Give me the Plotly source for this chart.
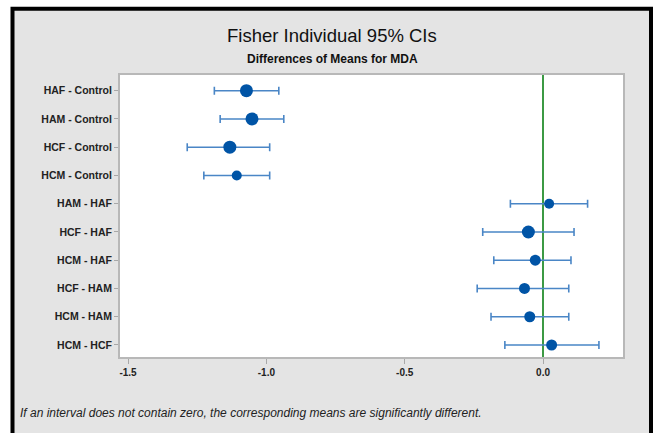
import plotly.graph_objects as go

comparisons = ["HAF - Control", "HAM - Control", "HCF - Control", "HCM - Control",
               "HAM - HAF", "HCF - HAF", "HCM - HAF", "HCF - HAM", "HCM - HAM", "HCM - HCF"]
diff = [-1.072, -1.052, -1.132, -1.107, 0.022, -0.053, -0.028, -0.067, -0.048, 0.031]
lower = [-1.188, -1.167, -1.286, -1.226, -0.118, -0.218, -0.178, -0.238, -0.188, -0.138]
upper = [-0.955, -0.937, -0.988, -0.988, 0.161, 0.112, 0.101, 0.093, 0.093, 0.202]
x_ticks = [-1.5, -1.0, -0.5, 0.0]
x_tick_labels = ["-1.5", "-1.0", "-0.5", "0.0"]

marker_sizes = [13, 13, 13, 10, 10, 13, 11, 11, 11, 11]

W, H = 654, 433
L, R, T, B = 120, 31, 75, 76
pw, ph = W - L - R, H - T - B


def px_x(x):
    return (x - L) / pw


def px_y(y):
    return 1 - (y - T) / ph


fig = go.Figure()
fig.add_trace(go.Scatter(
    x=diff, y=comparisons, mode="markers",
    marker=dict(color="#0054a6", size=marker_sizes, opacity=1, line=dict(width=0)),
    error_x=dict(type="data", symmetric=False,
                 array=[u - d for u, d in zip(upper, diff)],
                 arrayminus=[d - l for d, l in zip(diff, lower)],
                 color="#4a86c6", thickness=1.6, width=4),
    showlegend=False, cliponaxis=False,
))

fig.add_shape(type="rect", xref="paper", yref="paper",
              x0=px_x(12.5), x1=px_x(651), y0=px_y(480), y1=px_y(8.7),
              fillcolor="#e4e4e4", line=dict(color="black", width=4), layer="below")
fig.add_shape(type="rect", xref="paper", yref="paper",
              x0=0, x1=1, y0=0, y1=1,
              fillcolor="white", line=dict(width=0), layer="below")

font_main = "Liberation Sans, Arial, sans-serif"
fig.add_annotation(text="Fisher Individual 95% CIs", xref="paper", yref="paper",
                   x=px_x(332), y=px_y(36), showarrow=False, xanchor="center", yanchor="middle",
                   font=dict(family=font_main, size=18.5, color="#111"))
fig.add_annotation(text="<b>Differences of Means for MDA</b>", xref="paper", yref="paper",
                   x=px_x(332), y=px_y(59), showarrow=False, xanchor="center", yanchor="middle",
                   font=dict(family=font_main, size=12, color="#111"))
fig.add_annotation(text="<i>If an interval does not contain zero, the corresponding means are significantly different.</i>",
                   xref="paper", yref="paper", x=px_x(18), y=px_y(413), showarrow=False,
                   xanchor="left", yanchor="middle",
                   font=dict(family=font_main, size=12, color="#222"))

fig.update_xaxes(range=[-1.529, 0.289], tickvals=x_ticks, ticktext=x_tick_labels,
                 showgrid=False, zeroline=True, zerolinecolor="#3c9a44", zerolinewidth=1.5,
                 showline=True, mirror=True, linecolor="#b8b8b8", linewidth=2,
                 ticks="outside", ticklen=5, tickcolor="#a8a8a8",
                 tickfont=dict(family=font_main, size=10, color="#222", weight="bold"))
fig.update_yaxes(type="category", categoryorder="array", categoryarray=comparisons,
                 range=[9.425, -0.556], showgrid=False, zeroline=False,
                 showline=True, mirror=True, linecolor="#b8b8b8", linewidth=2,
                 ticks="outside", ticklen=4, tickcolor="#a8a8a8",
                 tickfont=dict(family=font_main, size=10.5, color="#222", weight="bold"))

fig.update_layout(width=W, height=H, margin=dict(l=L, r=R, t=T, b=B),
                  paper_bgcolor="white", plot_bgcolor="white", showlegend=False)

fig.write_html("out.html")
